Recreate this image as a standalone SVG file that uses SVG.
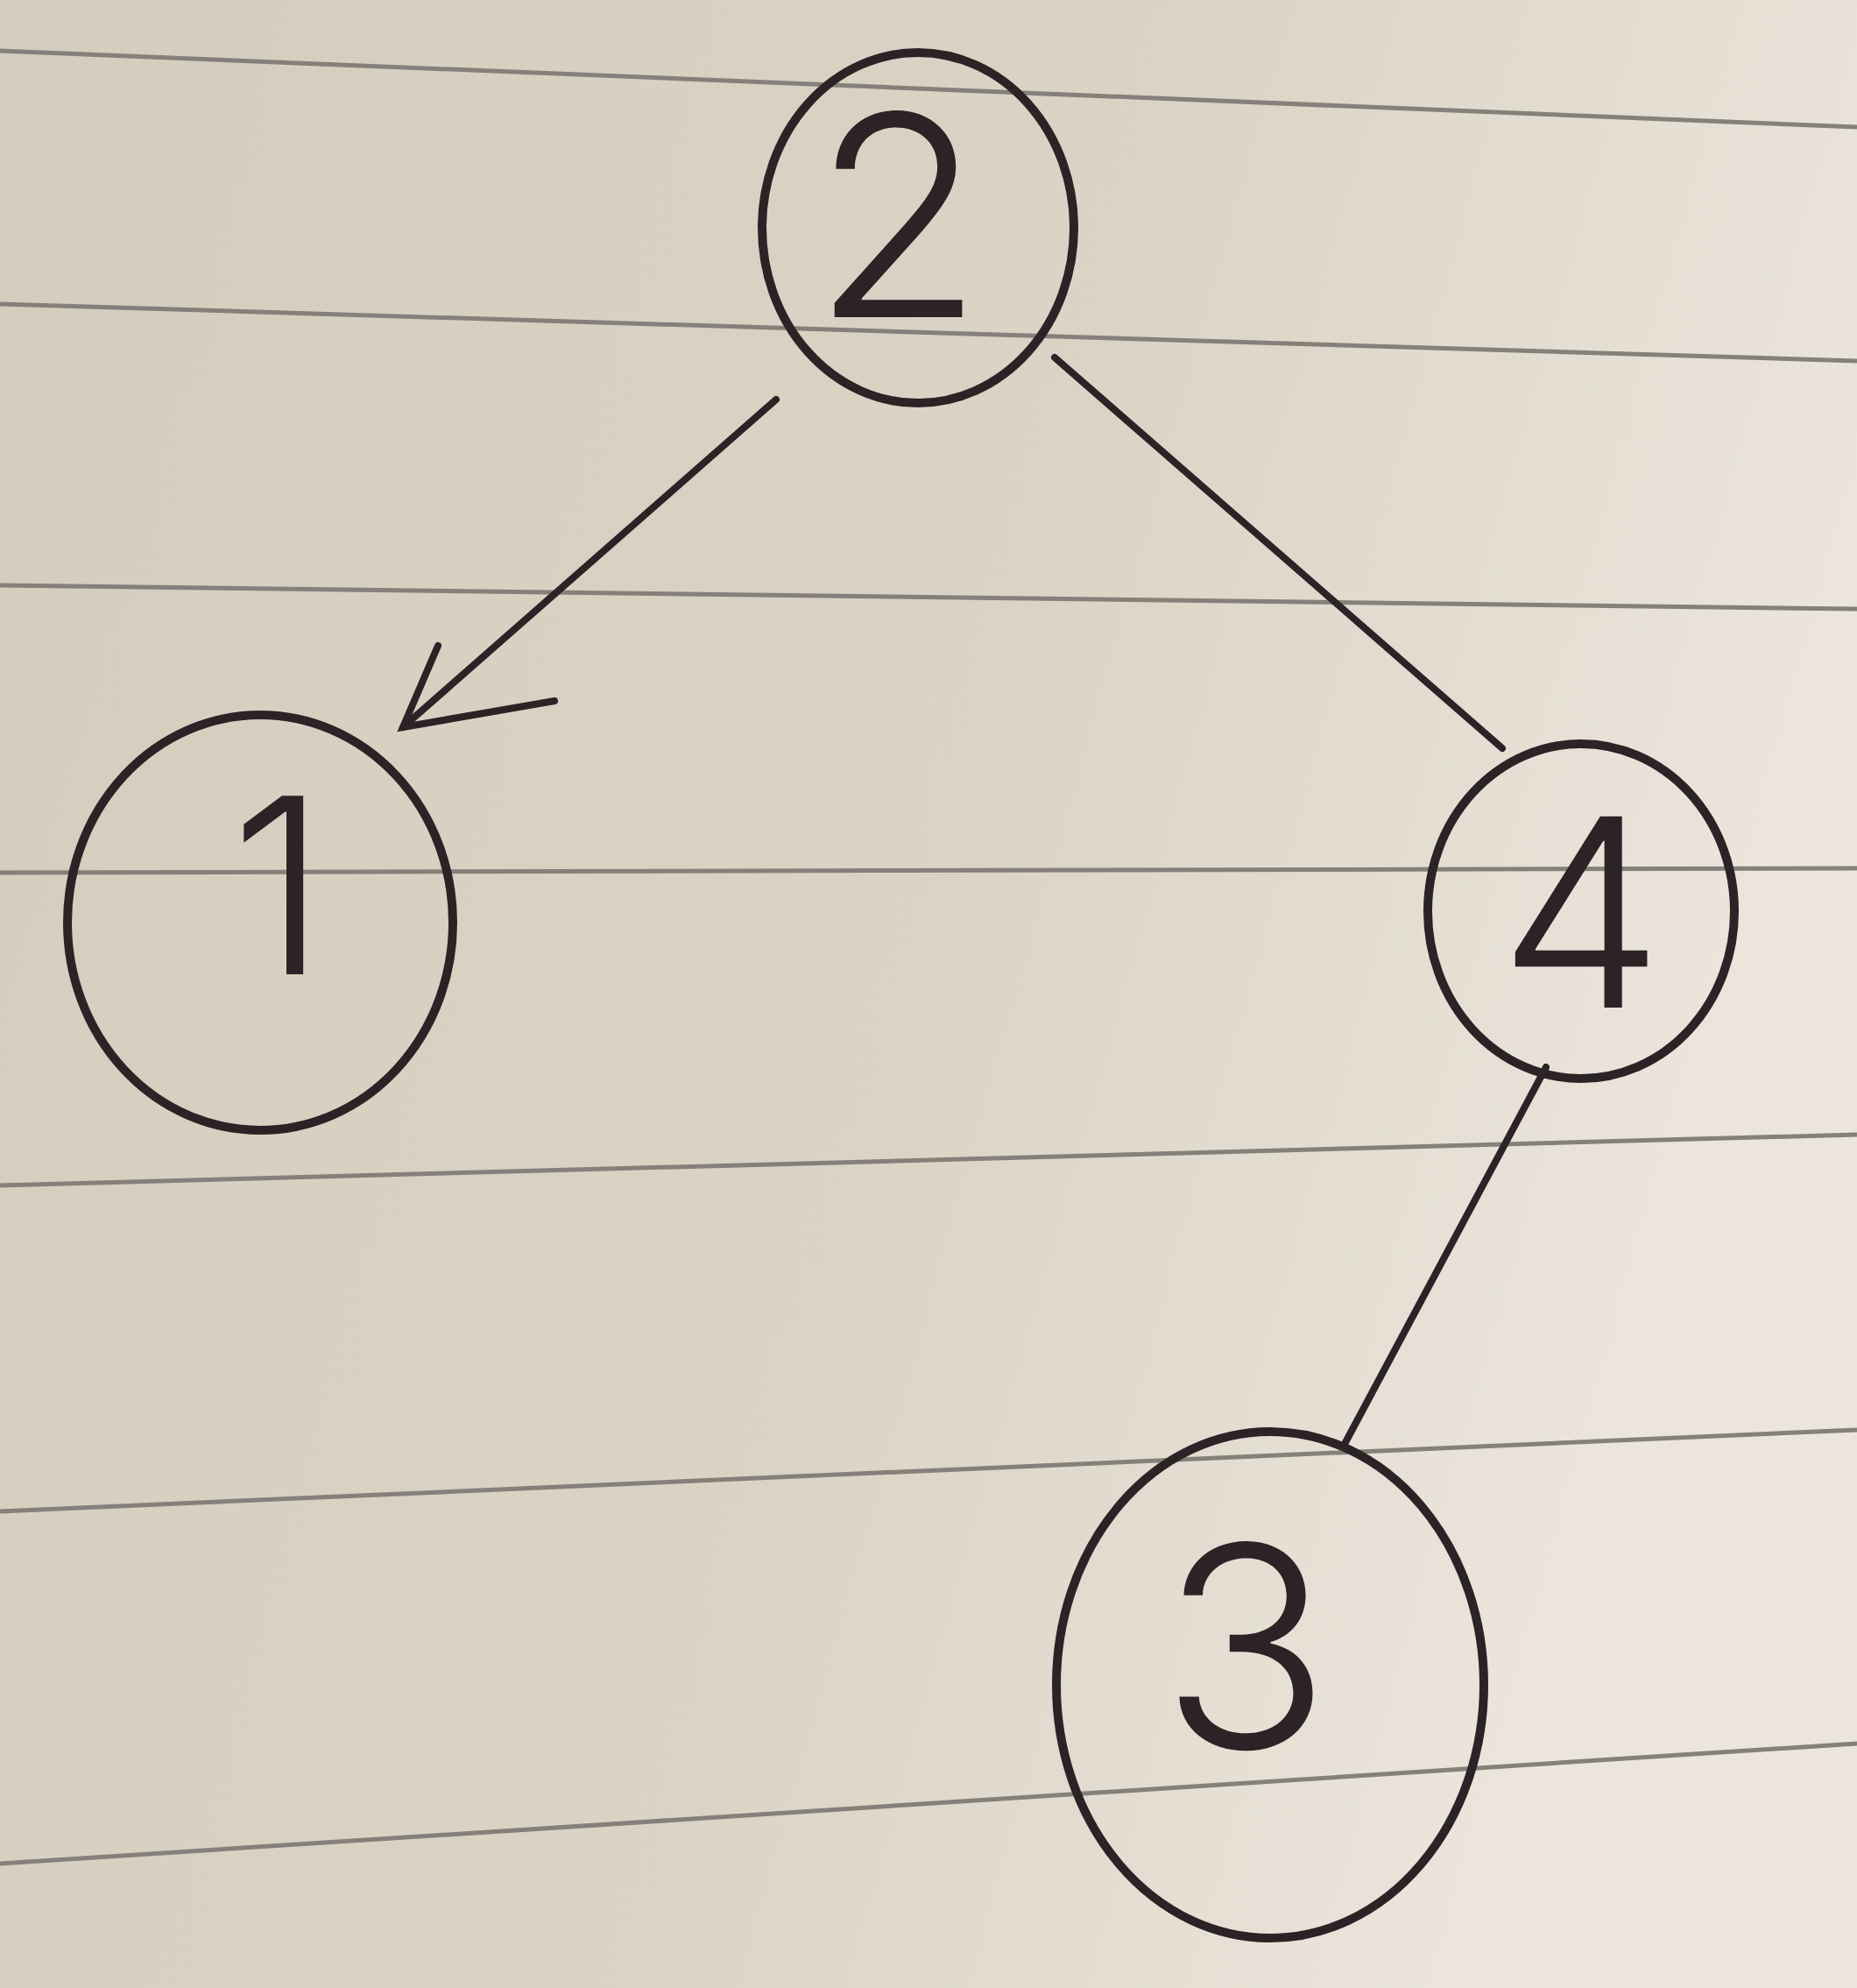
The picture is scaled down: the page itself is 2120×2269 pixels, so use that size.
<svg xmlns="http://www.w3.org/2000/svg" width="2120" height="2269" viewBox="0 0 2120 2269">
<defs>
<linearGradient id="bg" x1="0" y1="0" x2="1" y2="0.3">
<stop offset="0" stop-color="#d4cdbd"/>
<stop offset="0.6" stop-color="#dbd4c6"/>
<stop offset="1" stop-color="#ebe5dc"/>
</linearGradient>
<style>
.rule{stroke:#858079;stroke-width:5;fill:none}
.node{fill:none;stroke:#2b2326;stroke-width:10}
.edge{fill:none;stroke:#2b2326;stroke-width:8;stroke-linecap:round}
.digit{font-family:Inter,"DejaVu Sans","Liberation Sans",sans-serif;font-weight:300;fill:#2b2326;text-anchor:middle}
</style>
</defs>
<rect width="2120" height="2269" fill="url(#bg)"/>
<g id="paper-lines">
<line class="rule" x1="0" y1="58" x2="2120" y2="145"/>
<line class="rule" x1="0" y1="347" x2="2120" y2="412"/>
<line class="rule" x1="0" y1="668" x2="2120" y2="695"/>
<line class="rule" x1="0" y1="996" x2="2120" y2="991"/>
<line class="rule" x1="0" y1="1353" x2="2120" y2="1295"/>
<line class="rule" x1="0" y1="1725" x2="2120" y2="1632"/>
<line class="rule" x1="0" y1="2127" x2="2120" y2="1990"/>
</g>
<g id="connectors">
<path class="edge" d="M886 456 L460 830" stroke-width="9"/>
<path class="edge" d="M500 737 L460 830 L633 800"/>
<path class="edge" d="M1204 408 L1715 854"/>
<path class="edge" d="M1765 1218 L1534 1650"/>
</g>
<g id="node-2">
<ellipse class="node" cx="1048" cy="260" rx="178" ry="200"/>
<text class="digit" x="1025" y="362" font-size="320">2</text>
</g>
<g id="node-1">
<ellipse class="node" cx="297" cy="1053" rx="220" ry="237"/>
<text class="digit" x="318" y="1112" font-size="280">1</text>
</g>
<g id="node-4">
<ellipse class="node" cx="1805" cy="1040" rx="175" ry="191"/>
<text class="digit" x="1805" y="1150" font-size="300">4</text>
</g>
<g id="node-3">
<ellipse class="node" cx="1450" cy="1923" rx="244" ry="289"/>
<text class="digit" x="1422" y="1995" font-size="320">3</text>
</g>
</svg>
